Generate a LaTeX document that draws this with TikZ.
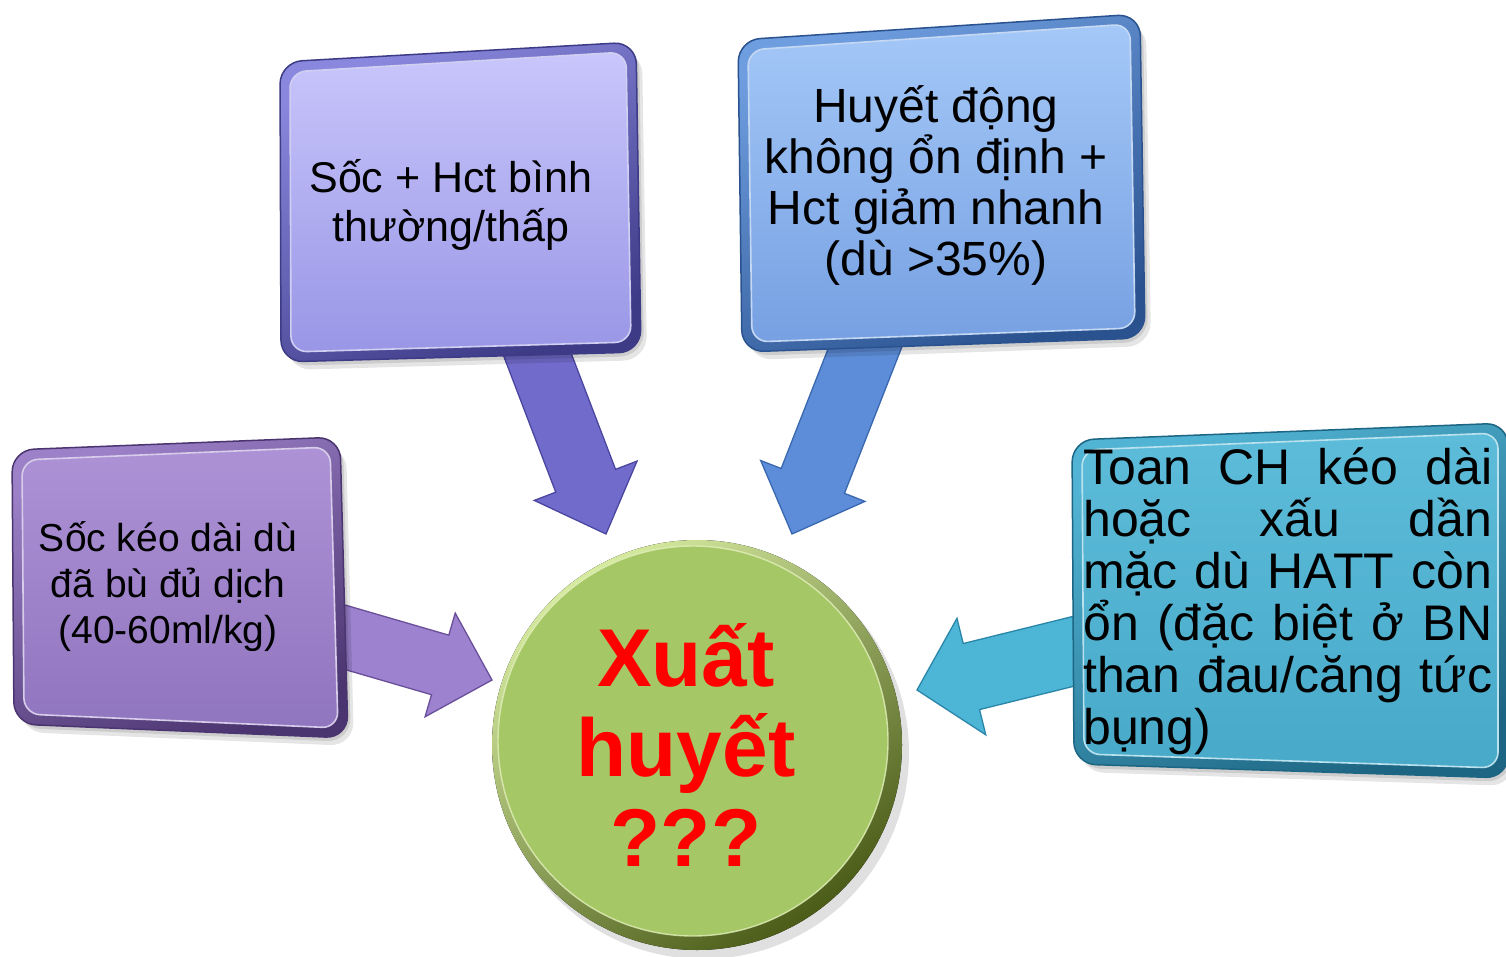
\documentclass[tikz,border=0pt]{standalone}
\usepackage{fontspec}
\setmainfont{Liberation Sans}
\usetikzlibrary{calc}

% palette
\definecolor{rimA}{HTML}{8A88DE}\definecolor{rimAd}{HTML}{3D3B86}
\definecolor{faceA}{HTML}{C8C6FB}\definecolor{faceAd}{HTML}{9996E6}
\definecolor{arrA}{HTML}{716BCB}\definecolor{arrAd}{HTML}{4B46A0}
\definecolor{rimB}{HTML}{6F9EE0}\definecolor{rimBd}{HTML}{2A528F}
\definecolor{faceB}{HTML}{A4C8F7}\definecolor{faceBd}{HTML}{76A0E2}
\definecolor{arrB}{HTML}{5D8DD8}\definecolor{arrBd}{HTML}{3A68B0}
\definecolor{rimC}{HTML}{9C80C8}\definecolor{rimCd}{HTML}{4B3570}
\definecolor{faceC}{HTML}{AD92D6}\definecolor{faceCd}{HTML}{9075BF}
\definecolor{arrC}{HTML}{9C82CF}\definecolor{arrCd}{HTML}{6A4F9A}
\definecolor{rimD}{HTML}{52B4D4}\definecolor{rimDd}{HTML}{1D6683}
\definecolor{faceD}{HTML}{5CBCD9}\definecolor{faceDd}{HTML}{48A9C9}
\definecolor{arrD}{HTML}{4DB5D5}\definecolor{arrDd}{HTML}{2A86A8}
\definecolor{ballface}{HTML}{A6C766}\definecolor{ballrim}{HTML}{D6EAA0}
\definecolor{ballrimd}{HTML}{4A5C18}
\definecolor{alarm}{HTML}{FF0000}

% block arrow: #1 tail, #2 tip, #3 shaft half-width, #4 head half-width,
% #5 head length, #6 fill, #7 edge
\newcommand\blockarrow[7]{%
  \coordinate (hb) at ($(#2)!#5!(#1)$);
  \filldraw[fill=#6, draw=#7, line width=1.3pt, line join=miter]
    ($(#1)!#3!90:(#2)$) -- ($(hb)!#3!90:(#2)$) -- ($(hb)!#4!90:(#2)$) -- (#2)
    -- ($(hb)!#4!-90:(#2)$) -- ($(hb)!#3!-90:(#2)$) -- ($(#1)!#3!-90:(#2)$) -- cycle;
}

% bevelled panel: #1..#4 corners (TL, TR, BR, BL), #5 rim light, #6 rim dark,
% #7 face top, #8 face bottom
\newcommand\bevelbox[8]{%
  \fill[black, opacity=0.10, rounded corners=24pt]
    ($(#1)+(6,8)$) -- ($(#2)+(6,8)$) -- ($(#3)+(6,8)$) -- ($(#4)+(6,8)$) -- cycle;
  \fill[black, opacity=0.10, rounded corners=24pt]
    ($(#1)+(3,4)$) -- ($(#2)+(3,4)$) -- ($(#3)+(3,4)$) -- ($(#4)+(3,4)$) -- cycle;
  \filldraw[draw=#6, line width=1.5pt, top color=#5, bottom color=#6,
            shading angle=25, rounded corners=22pt]
    (#1) -- (#2) -- (#3) -- (#4) -- cycle;
  \filldraw[draw=#5!40!white, line width=1.6pt, top color=#7, bottom color=#8,
            rounded corners=16pt]
    ($(#1)+(10,10)$) -- ($(#2)+(-10,10)$) -- ($(#3)+(-10,-10)$)
    -- ($(#4)+(10,-10)$) -- cycle;
}

\tikzset{
  boxtext/.style={align=center, inner sep=0pt, text=black},
}

\begin{document}
\begin{tikzpicture}[x=1pt, y=-1pt]
\fill[white] (0,0) rectangle (1506,957);
\useasboundingbox (0,0) rectangle (1506,957);

% arrow end points
\coordinate (a1s) at (528,330);  \coordinate (a1e) at (606,534);
\coordinate (a2s) at (872,330);  \coordinate (a2e) at (792,534);
\coordinate (a3s) at (320,630);  \coordinate (a3e) at (492,680);
\coordinate (a4s) at (1095,646); \coordinate (a4e) at (917,690);

% arrows
\blockarrow{a1s}{a1e}{32pt}{55pt}{57pt}{arrA}{arrAd}
\blockarrow{a2s}{a2e}{34pt}{56pt}{57pt}{arrB}{arrBd}
\blockarrow{a3s}{a3e}{31pt}{54pt}{54pt}{arrC}{arrCd}
\blockarrow{a4s}{a4e}{34pt}{60pt}{56pt}{arrD}{arrDd}

% panels
\bevelbox{280,62}{636,42}{641,352}{281,362}{rimA}{rimAd}{faceA}{faceAd}
\bevelbox{738,40}{1140,14}{1145,338}{742,352}{rimB}{rimBd}{faceB}{faceBd}
\bevelbox{12,450}{340,437}{348,738}{14,724}{rimC}{rimCd}{faceC}{faceCd}
\bevelbox{1072,440}{1508,423}{1508,778}{1074,764}{rimD}{rimDd}{faceD}{faceDd}

% panel texts
\node[boxtext, font=\fontsize{43}{49}\selectfont] (t1) at (451,205)
  {Sốc + Hct bình\\thường/thấp};
\node[boxtext, font=\fontsize{48}{51}\selectfont] (t2) at (936,186)
  {Huyết động\\không ổn định +\\Hct giảm nhanh\\(dù >35\%)};
\node[boxtext, font=\fontsize{39}{46}\selectfont] (t3) at (168,587)
  {Sốc kéo dài dù\\đã bù đủ dịch\\(40-60ml/kg)};
\node[boxtext, align=left, anchor=west, font=\fontsize{50}{52}\selectfont] (t4) at (1083,601)
  {\makebox[409pt][s]{Toan CH kéo dài}\\
   \makebox[409pt][s]{hoặc xấu dần}\\
   \makebox[409pt][s]{mặc dù HATT còn}\\
   \makebox[409pt][s]{ổn (đặc biệt ở BN}\\
   \makebox[409pt][s]{than đau/căng tức}\\
   bụng)};

% central ball
\fill[black, opacity=0.12] (703,753) circle (206);
\fill[top color=ballrim, bottom color=ballrimd, shading angle=35] (697,745) circle (205);
\fill[ballface] (693,741) circle (195);
\draw[ballrim!70!white, line width=1.4pt, opacity=0.8] (693,741) circle (195);
\node[boxtext, font=\bfseries\fontsize{82}{90}\selectfont, text=alarm] (xh) at (686,745)
  {Xuất\\huyết\\???};
\end{tikzpicture}
\end{document}
